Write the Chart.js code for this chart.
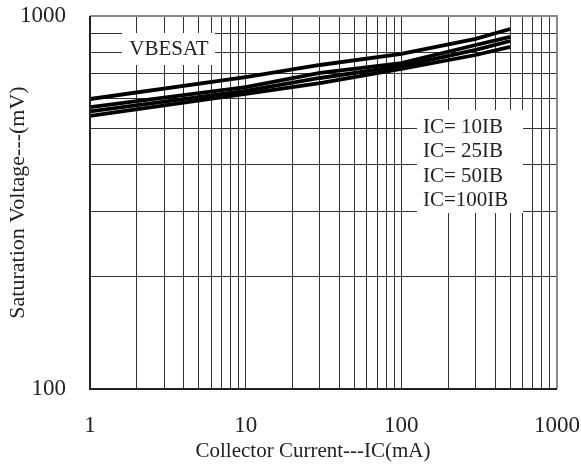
<!DOCTYPE html>
<html>
<head>
<meta charset="utf-8">
<script src="https://cdn.jsdelivr.net/npm/chart.js@4/dist/chart.umd.min.js"></script>
<style>
  html, body { margin: 0; padding: 0; background: #fff; }
  #wrap { width: 581px; height: 468px; }
</style>
</head>
<body>
<div id="wrap"><canvas id="satChart" width="581" height="468"></canvas></div>
<script>
const currentMA = [1, 10, 30, 100, 300, 500];
const vIC10IB = [599, 686, 739, 791, 868, 923];
const vIC25IB = [570, 645, 704, 748, 836, 879];
const vIC50IB = [555, 630, 682, 734, 811, 857];
const vIC100IB = [540, 618, 661, 721, 786, 826];
const seriesNames = ['IC= 10IB', 'IC= 25IB', 'IC= 50IB', 'IC=100IB'];
const xTickLabels = [1, 10, 100, 1000];
const yTickLabels = [100, 1000];
// grid positions: 1..9 in every decade
const xGrid = [1, 2, 3, 4, 5, 6, 7, 8, 9, 10, 20, 30, 40, 50, 60, 70, 80, 90,
    100, 200, 300, 400, 500, 600, 700, 800, 900, 1000];
const yGrid = [100, 200, 300, 400, 500, 600, 700, 800, 900, 1000];

const serif = "'Liberation Serif', 'DejaVu Serif', serif";

function toPoints(vals) {
    return currentMA.map((x, i) => ({ x: x, y: vals[i] }));
}

function fixedSize(w, h) {
    return (scale) => {
        if (w) scale.width = w;
        if (h) scale.height = h;
        scale.paddingLeft = 0;
        scale.paddingRight = 0;
        scale.paddingTop = 0;
        scale.paddingBottom = 0;
    };
}

// white boxes with the curve name and the legend text, x title, frame
const notesPlugin = {
    id: 'notes',
    afterDatasetsDraw(chart) {
        const c = chart.ctx;
        c.save();
        c.fillStyle = '#fff';
        c.fillRect(122, 33, 93, 32);
        c.fillRect(417, 110, 106, 103);
        c.fillStyle = '#222';
        c.font = '21px ' + serif;
        c.textBaseline = 'middle';
        c.textAlign = 'center';
        c.fillText('VBESAT', 169, 49);
        c.fillText('Collector Current---IC(mA)', 313, 451);
        c.textAlign = 'left';
        seriesNames.forEach((name, i) => {
            c.fillText(name, 423, 127 + i * 24.5);
        });
        c.restore();
    },
    afterDraw(chart) {
        const a = chart.chartArea;
        const c = chart.ctx;
        c.save();
        c.strokeStyle = '#888';
        c.lineWidth = 2;
        c.beginPath();
        c.moveTo(a.left, a.top);
        c.lineTo(a.right, a.top);
        c.lineTo(a.right, a.bottom);
        c.stroke();
        c.strokeStyle = '#222';
        c.beginPath();
        c.moveTo(a.left, a.top);
        c.lineTo(a.left, a.bottom);
        c.lineTo(a.right, a.bottom);
        c.stroke();
        c.restore();
    }
};

const ctx = document.getElementById('satChart').getContext('2d');
new Chart(ctx, {
    type: 'line',
    data: {
        datasets: [vIC10IB, vIC25IB, vIC50IB, vIC100IB].map((vals, i) => ({
            label: seriesNames[i],
            data: toPoints(vals),
            borderColor: '#000',
            borderWidth: 3.8,
            pointRadius: 0,
            tension: 0,
            fill: false
        }))
    },
    options: {
        responsive: false,
        animation: false,
        layout: { padding: { left: 0, top: 16, right: 24, bottom: 0 } },
        plugins: {
            legend: { display: false },
            tooltip: { enabled: false }
        },
        scales: {
            x: {
                type: 'logarithmic',
                min: 1,
                max: 1000,
                afterBuildTicks: (scale) => { scale.ticks = xGrid.map(v => ({ value: v })); },
                afterFit: fixedSize(0, 79),
                grid: { color: '#333', lineWidth: 1, drawTicks: false },
                border: { display: false },
                ticks: {
                    autoSkip: false,
                    maxRotation: 0,
                    padding: 23,
                    color: '#222',
                    font: { family: serif, size: 23 },
                    callback: (v) => xTickLabels.includes(v) ? String(v) : ''
                },
                title: { display: false }
            },
            y: {
                type: 'logarithmic',
                min: 100,
                max: 1000,
                afterBuildTicks: (scale) => { scale.ticks = yGrid.map(v => ({ value: v })); },
                afterFit: fixedSize(90, 0),
                grid: { color: '#333', lineWidth: 1, drawTicks: false },
                border: { display: false },
                ticks: {
                    autoSkip: false,
                    padding: 24,
                    color: '#222',
                    font: { family: serif, size: 23 },
                    callback: (v) => yTickLabels.includes(v) ? String(v) : ''
                },
                title: {
                    display: true,
                    text: 'Saturation Voltage---(mV)',
                    color: '#222',
                    font: { family: serif, size: 22 },
                    padding: { top: 5, bottom: 0 }
                }
            }
        }
    },
    plugins: [notesPlugin]
});
</script>
</body>
</html>
